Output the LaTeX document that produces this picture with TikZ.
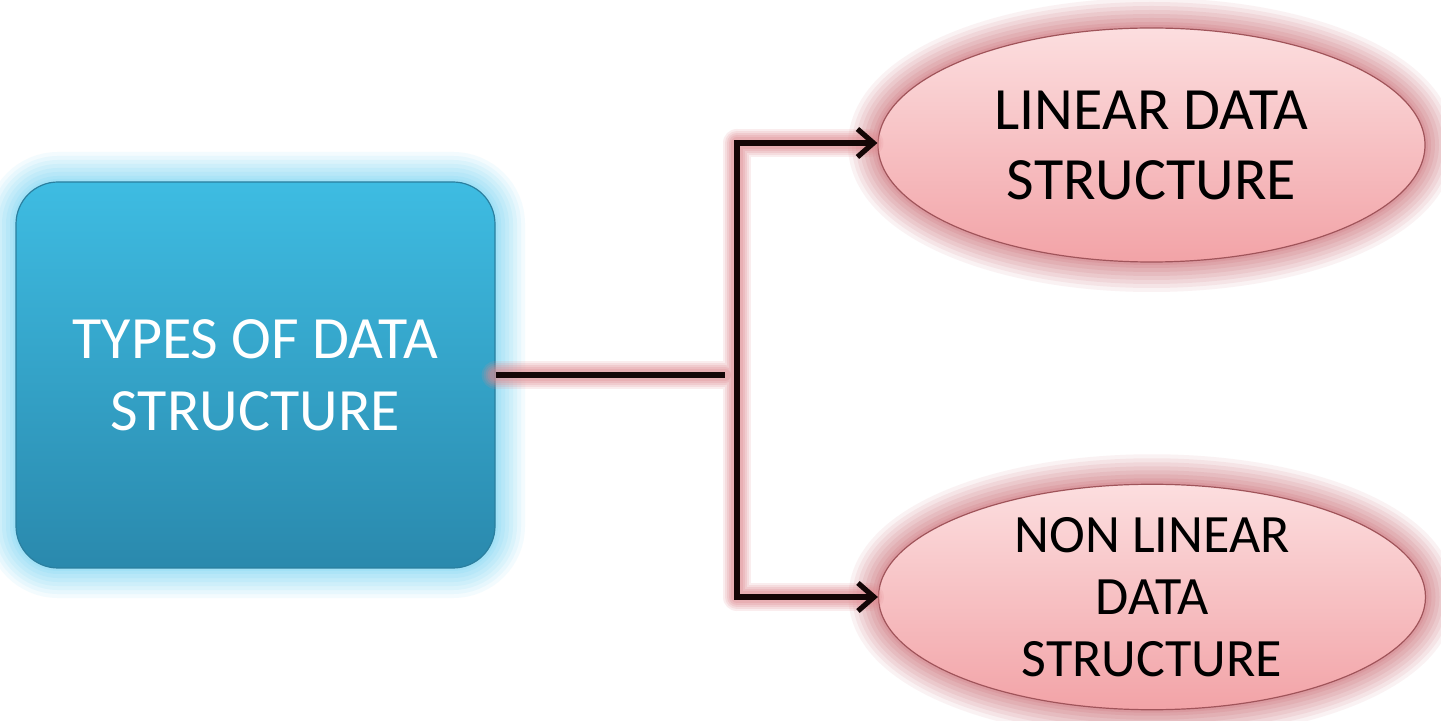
\documentclass[tikz,border=0pt]{standalone}
\usepackage{fontspec}
\setmainfont{Carlito}
\usetikzlibrary{shapes.geometric,arrows.meta}

\definecolor{boxtop}{HTML}{3EBCE2}
\definecolor{boxbot}{HTML}{2A89AD}
\definecolor{boxedge}{HTML}{2A7F9F}
\definecolor{boxglow}{HTML}{6FD3F3}
\definecolor{elltop}{HTML}{FCDEDF}
\definecolor{ellbot}{HTML}{F2A3A7}
\definecolor{elledge}{HTML}{A0545A}
\definecolor{ellglow}{HTML}{C8606A}
\definecolor{lineglow}{HTML}{E08A90}
\definecolor{wire}{HTML}{140606}

% 1 unit = 1 pixel, y grows downwards
\tikzset{
  x=0.5pt, y=-0.5pt,
  glowing/.style={
    preaction={draw=#1, line width=30pt, draw opacity=0.08},
    preaction={draw=#1, line width=26pt, draw opacity=0.09},
    preaction={draw=#1, line width=22pt, draw opacity=0.1},
    preaction={draw=#1, line width=18pt, draw opacity=0.11},
    preaction={draw=#1, line width=14pt, draw opacity=0.12},
    preaction={draw=#1, line width=10pt, draw opacity=0.13},
    preaction={draw=#1, line width=6pt, draw opacity=0.14},
    preaction={draw=#1, line width=3pt, draw opacity=0.15}},
  rootbox/.style={rectangle, rounded corners=21pt, inner sep=0pt,
    minimum width=239.5pt, minimum height=193pt,
    top color=boxtop, bottom color=boxbot, draw=boxedge, line width=0.6pt,
    glowing=boxglow, text=white, align=center,
    font=\fontsize{30}{36}\selectfont},
  kindnode/.style={ellipse, inner sep=0pt, minimum width=273.5pt,
    top color=elltop, bottom color=ellbot, draw=elledge, line width=0.6pt,
    glowing=ellglow, text=black, align=center},
  wireglow/.style={draw=lineglow, line cap=round},
  wireline/.style={draw=wire, line width=2.6pt},
  wirearrow/.style={wireline, -{Straight Barb[length=8pt, width=14pt, line width=2.6pt]}}
}

\begin{document}
\begin{tikzpicture}
\useasboundingbox[fill=white] (0,0) rectangle (1441,721);

% shapes
\node[rootbox] (types) at (255.5,375) {TYPES OF DATA\\STRUCTURE};
\node[kindnode, minimum height=117pt, font=\fontsize{30}{35}\selectfont]
  (linear) at (1151.5,145) {LINEAR DATA\\STRUCTURE};
\node[kindnode, minimum height=110pt, font=\fontsize{27}{31}\selectfont]
  (nonlinear) at (1152,597) {NON LINEAR\\DATA\\STRUCTURE};

% branching points
\coordinate (join) at (725,375);
\coordinate (spinetop) at (737,143);
\coordinate (spinebot) at (737,597);

% soft red halo under the connectors
\foreach \w/\o in {14pt/0.15, 12pt/0.17, 10pt/0.2, 8pt/0.22, 6pt/0.25}{
  \draw[wireglow, line width=\w, draw opacity=\o]
    (types.east) -- (join)
    (spinetop) -- (spinebot)
    (spinetop) -- ([xshift=-4pt]spinetop -| linear.west)
    (spinebot) -- ([xshift=-4pt]spinebot -| nonlinear.west);
}

% connectors
\draw[wireline] (types.east) -- (join);
\draw[wireline, line cap=rect] (spinetop) -- (spinebot);
\draw[wirearrow] (spinetop) -- (spinetop -| linear.west);
\draw[wirearrow] (spinebot) -- (spinebot -| nonlinear.west);
\end{tikzpicture}
\end{document}
